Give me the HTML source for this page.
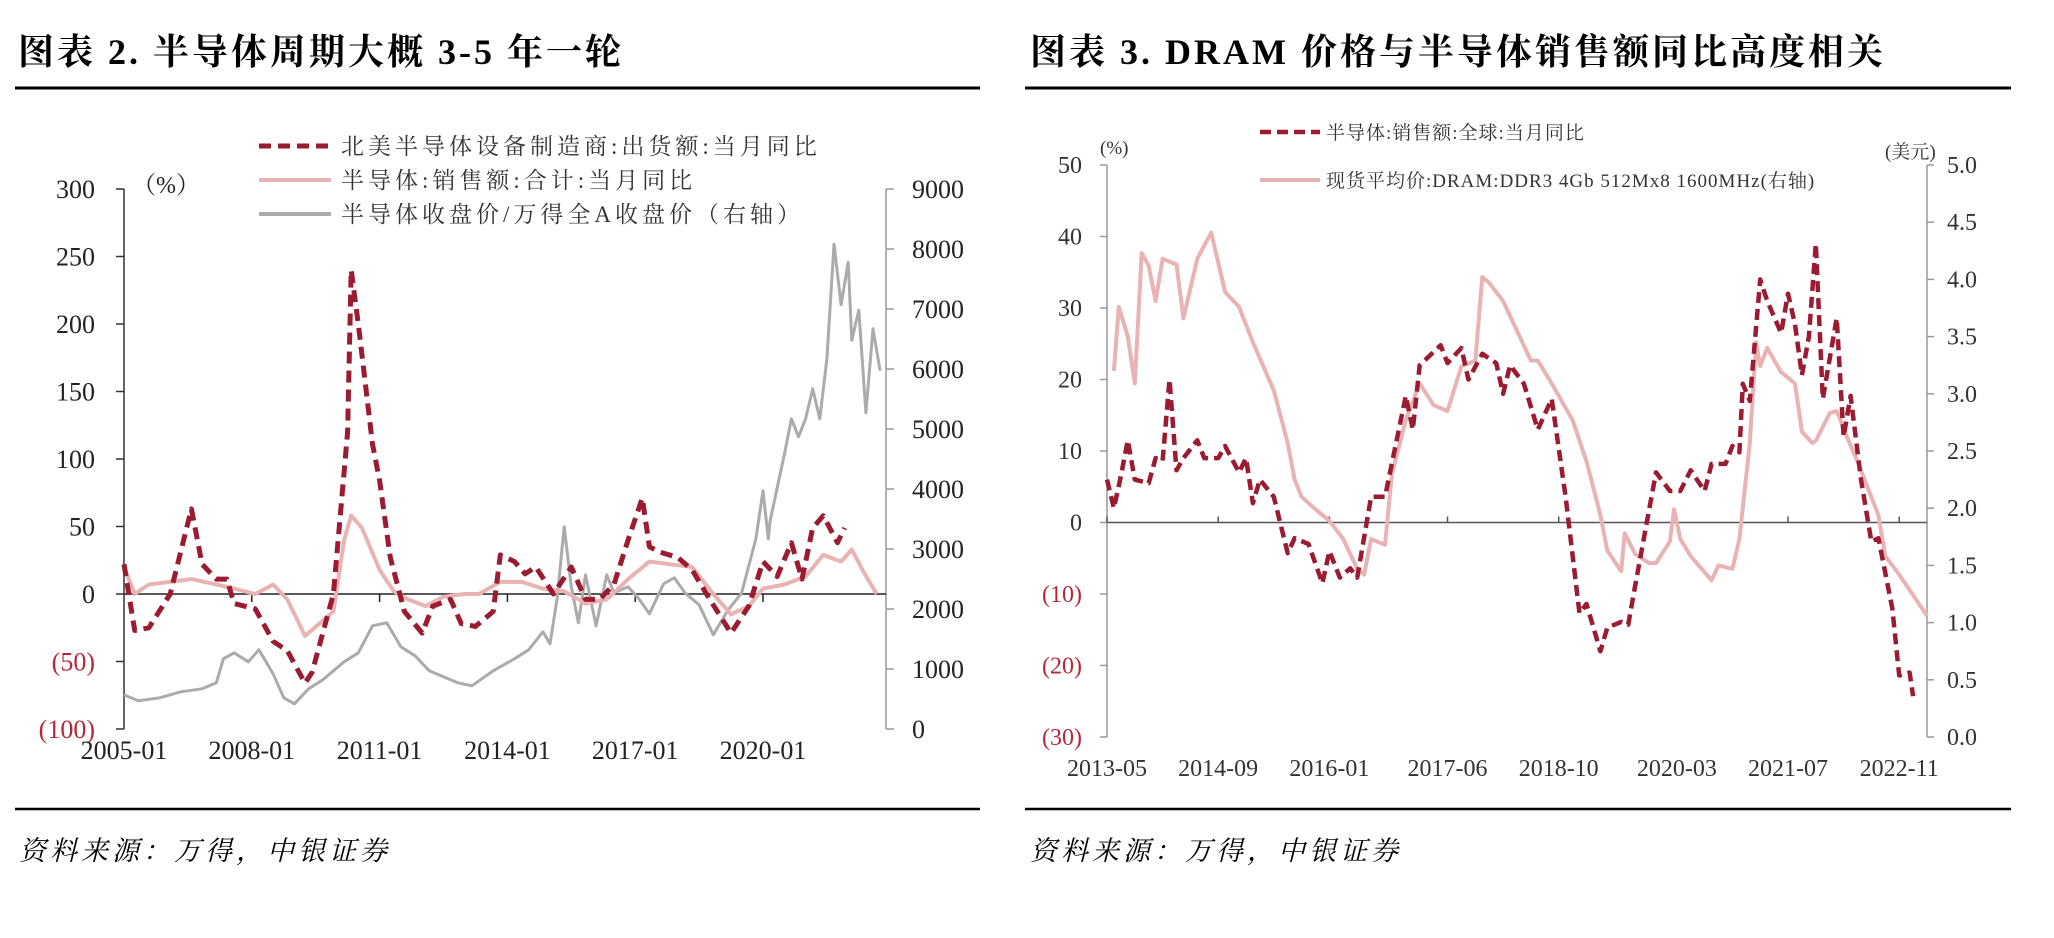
<!DOCTYPE html>
<html><head><meta charset="utf-8">
<style>
html,body{margin:0;padding:0;background:#fff;}
svg{display:block;font-family:"Liberation Serif","Noto Serif CJK SC",serif;}
.cjk{font-family:"Liberation Serif","Noto Serif CJK SC","Noto Sans CJK SC",serif;}
</style></head>
<body>
<svg id="svg" width="2054" height="938" viewBox="0 0 2054 938" xmlns="http://www.w3.org/2000/svg">
  <text x="18" y="64" font-size="36" font-weight="bold" letter-spacing="3" class="cjk">图表 2.  半导体周期大概 3-5 年一轮</text>
  <line x1="15" y1="88" x2="980" y2="88" stroke="#000" stroke-width="3"/>
  <line x1="15" y1="809" x2="980" y2="809" stroke="#000" stroke-width="2.5"/>
  <text x="19" y="860" font-size="27" font-style="italic" letter-spacing="4" class="cjk">资料来源：万得，中银证券</text>

  <text x="1030" y="64" font-size="36" font-weight="bold" letter-spacing="3" class="cjk">图表 3. DRAM 价格与半导体销售额同比高度相关</text>
  <line x1="1025" y1="88" x2="2011" y2="88" stroke="#000" stroke-width="3"/>
  <line x1="1025" y1="809" x2="2011" y2="809" stroke="#000" stroke-width="2.5"/>
  <text x="1030" y="860" font-size="27" font-style="italic" letter-spacing="4" class="cjk">资料来源：万得，中银证券</text>

  <g id="c2"></g>
  <g id="c3"></g>
</svg>
<script>
// ---------- Chart 2 data (month index from 2005-01) ----------
const c2LeftTicks = [300,250,200,150,100,50,0,-50,-100];
const c2LeftTickLabels = ["300","250","200","150","100","50","0","(50)","(100)"];
const c2RightTicks = [9000,8000,7000,6000,5000,4000,3000,2000,1000,0];
const c2XLabels = ["2005-01","2008-01","2011-01","2014-01","2017-01","2020-01"];
const c2XLabelMonths = [0,36,72,108,144,180];
const c2EquipMonths = [0,3,7,13,19,22,26,29,31,37,42,46,51,53,59,63,64,66,70,72,75,79,84,87,92,95,99,104,106,110,113,116,121,126,130,134,138,142,146,148,151,156,160,165,171,176,180,184,188,191,194,197,201,203];
const c2EquipValues = [22,-27,-25,0,63,22,11,11,-7,-11,-35,-42,-66,-58,0,120,240,200,111,84,27,-13,-29,-9,-4,-22,-24,-13,29,24,15,20,0,20,-4,-4,7,40,71,35,31,27,18,-4,-29,-9,24,13,38,11,49,58,38,49];
const c2SalesMonths = [0,3,7,13,19,26,31,37,42,46,51,55,59,62,64,67,72,76,80,85,90,96,100,106,112,118,124,130,136,142,148,154,160,166,171,176,180,186,192,197,202,205,208,212];
const c2SalesValues = [20,0,7,9,11,7,4,0,7,-4,-31,-22,-13,40,58,49,18,2,-4,-9,-2,0,0,9,9,4,2,-7,-4,11,24,22,20,0,-15,-9,4,7,13,29,24,33,18,0];
const c2RatioMonths = [0,4,10,16,22,26,28,31,35,38,42,45,48,52,56,62,66,70,74,78,82,86,90,94,98,104,110,114,118,120,122,124,126,128,130,133,136,138,142,145,148,152,155,158,162,166,170,174,178,180,181.5,182,186,188,190,192,194,196,198,200,202,204,205,207,209,211,213];
const c2RatioValues = [570,470,520,620,670,770,1170,1270,1120,1320,920,520,420,670,820,1120,1270,1720,1770,1370,1220,970,870,770,720,970,1170,1320,1620,1420,2170,3370,2370,1770,2570,1720,2570,2270,2370,2170,1920,2420,2520,2270,2070,1570,1970,2270,3170,3970,3170,3470,4570,5170,4870,5170,5670,5170,6170,8080,7070,7780,6480,6980,5270,6670,5970,5370];

// ---------- Chart 3 data (month index from 2013-05) ----------
const c3LeftTicks = [50,40,30,20,10,0,-10,-20,-30];
const c3LeftTickLabels = ["50","40","30","20","10","0","(10)","(20)","(30)"];
const c3RightTicks = [5,4.5,4,3.5,3,2.5,2,1.5,1,0.5,0];
const c3RightTickLabels = ["5.0","4.5","4.0","3.5","3.0","2.5","2.0","1.5","1.0","0.5","0.0"];
const c3XLabels = ["2013-05","2014-09","2016-01","2017-06","2018-10","2020-03","2021-07","2022-11"];
const c3XLabelMonths = [0,16,32,49,65,82,98,114];
const c3SalesMonths = [0,1,2,3,4,6,7,8,9,10,11,13,14,16,17,19,20,21,22,24,26,27,29,31,32,33.5,35,36,38,40,43,44,45,48,49,51,52,54,56,57,58,60,62,64,66,68,69,71,72,74,75,76,79,81,82.5,84,86,87,89,90,91,91.5,92.5,94,95,97,98,99,100,101,102,103,105,106,107,108.5,110,111,113,114,115.5,116];
const c3SalesValues = [6,2,6.5,11.5,6,5.5,9,8.6,20,7.3,9,11.5,9,9,10.7,7,9,2.7,6,3.6,-4.3,-2.2,-3,-8.5,-4,-7.7,-6.4,-7.7,3.6,3.6,17.7,13,22,24.8,22.3,24.4,20,23.6,22.3,18,22,19.4,13,17.3,3.6,-12.7,-11.4,-18,-14.7,-13.9,-14.3,-8.9,7,4.4,4.4,7.3,4.4,8.2,8.2,10.7,9.8,19.4,17,34,31,26.5,32,27.7,20.6,26,39,17.3,28.6,12,17.7,6,-2.7,-2.2,-12,-21.4,-21,-24.3];
const c3DramMonths = [1,1.7,3,4,5,6,7,8,10,11,13,15,17,19,21,24,26,27,28,30,32,34,36,37,38,40,41,43,45,47,49,51,53,54,55,57,59,61,62,64,67,69,71,72,74,74.5,76,78,79,81,81.6,82.5,84,87,88,90,91,92.5,93.4,94,95,97,99,100,101.5,102,104,105,106.5,108,109,111,112,114,116,118];
const c3DramValues = [3.2,3.76,3.5,3.09,4.23,4.12,3.81,4.18,4.13,3.66,4.18,4.41,3.89,3.76,3.45,3.03,2.57,2.25,2.1,1.99,1.89,1.73,1.47,1.42,1.73,1.68,2.3,2.77,3.09,2.9,2.85,3.24,3.29,4.02,3.97,3.81,3.55,3.29,3.29,3.09,2.77,2.41,1.94,1.63,1.45,1.78,1.6,1.52,1.52,1.71,1.99,1.73,1.58,1.37,1.5,1.47,1.73,2.57,3.45,3.24,3.4,3.19,3.09,2.67,2.57,2.59,2.83,2.85,2.62,2.41,2.25,1.94,1.58,1.42,1.24,1.06];

const NS = "http://www.w3.org/2000/svg";
function mk(parent, tag, attrs, text){
  const e = document.createElementNS(NS, tag);
  for (const k in attrs) e.setAttribute(k, attrs[k]);
  if (text !== undefined) e.textContent = text;
  parent.appendChild(e);
  return e;
}
function pts(ms, vs, fx, fy){ return ms.map((m,i)=>fx(m).toFixed(1)+","+fy(vs[i]).toFixed(1)).join(" "); }

const RED="#9b1b30", PINK="#eab3b3", GRAY="#ababab", NEG="#b5283a";

// ---------- Chart 2 ----------
(function(){
  const g = document.getElementById('c2');
  const x0=124, x1=886, pxPerMonth=3.55;
  const fx = m => x0 + m*pxPerMonth;
  const yTop=189, yBot=729;
  const fyL = v => yBot - (v+100)*(yBot-yTop)/400;
  const fyR = v => yBot - v*(yBot-yTop)/9000;

  let e;
  e = mk(g,'line',{x1:x0,y1:yTop,x2:x0,y2:yBot,stroke:"#333","stroke-width":1.5});
   
  e = mk(g,'line',{x1:x1,y1:yTop,x2:x1,y2:yBot,stroke:"#999","stroke-width":1.5});
   
  e = mk(g,'line',{x1:x0,y1:fyL(0),x2:x1,y2:fyL(0),stroke:"#222","stroke-width":1.5});
   

  c2LeftTicks.forEach((v,i)=>{
    const y=fyL(v);
    const t=mk(g,'line',{x1:x0-8,y1:y,x2:x0,y2:y,stroke:"#333","stroke-width":1.5});
     
    const l=mk(g,'text',{x:x0-29,y:y+9,"font-size":26,"text-anchor":"end",fill:v<0?NEG:"#222"},c2LeftTickLabels[i]);
     
  });
  c2RightTicks.forEach(v=>{
    const y=fyR(v);
    const t=mk(g,'line',{x1:x1,y1:y,x2:x1+8,y2:y,stroke:"#999","stroke-width":1.5});
     
    const l=mk(g,'text',{x:x1+26,y:y+9,"font-size":26,fill:"#222"},String(v));
     
  });
  c2XLabels.forEach((s,i)=>{
    const x=fx(c2XLabelMonths[i]);
    if(i>0){
      const t=mk(g,'line',{x1:x,y1:fyL(0),x2:x,y2:fyL(0)+8,stroke:"#222","stroke-width":1.5});
       
    }
    const l=mk(g,'text',{x:x,y:759,"font-size":26,"text-anchor":"middle",fill:"#222"},s);
     
  });
  e=mk(g,'text',{x:132,y:193,"font-size":24,fill:"#222"},"（%）");
   

  e=mk(g,'polyline',{points:pts(c2RatioMonths,c2RatioValues,fx,fyR),fill:"none",stroke:GRAY,"stroke-width":3,"stroke-linejoin":"round"});
   
  e=mk(g,'polyline',{points:pts(c2SalesMonths,c2SalesValues,fx,fyL),fill:"none",stroke:PINK,"stroke-width":4,"stroke-linejoin":"round"});
   
  e=mk(g,'polyline',{points:pts(c2EquipMonths,c2EquipValues,fx,fyL),fill:"none",stroke:RED,"stroke-width":5,"stroke-dasharray":"12,7","stroke-linejoin":"round"});
   

  const leg=[["北美半导体设备制造商:出货额:当月同比",RED,true,146],["半导体:销售额:合计:当月同比",PINK,false,180],["半导体收盘价/万得全A收盘价（右轴）",GRAY,false,214]];
  leg.forEach(r=>{
    const ln=mk(g,'line',{x1:259,y1:r[3],x2:331,y2:r[3],stroke:r[1],"stroke-width":r[2]?5:4,"stroke-dasharray":r[2]?"12,7":"none"});
     
    const tx=mk(g,'text',{x:341,y:r[3]+8,"font-size":23,"letter-spacing":4,fill:"#333",class:"cjk"},r[0]);
     
  });
})();

// ---------- Chart 3 ----------
(function(){
  const g = document.getElementById('c3');
  const x0=1107, x1=1927, monthsSpan=118;
  const fx = m => x0 + m*(x1-x0)/monthsSpan;
  const yTop=165, yBot=737;
  const fyL = v => yBot - (v+30)*(yBot-yTop)/80;
  const fyR = v => yBot - v*(yBot-yTop)/5;

  let e;
  e = mk(g,'line',{x1:x0,y1:yTop,x2:x0,y2:yBot,stroke:"#999","stroke-width":1.5});
   
  e = mk(g,'line',{x1:x1,y1:yTop,x2:x1,y2:yBot,stroke:"#999","stroke-width":1.5});
   
  e = mk(g,'line',{x1:x0,y1:fyL(0),x2:x1,y2:fyL(0),stroke:"#555","stroke-width":1.5});
   

  c3LeftTicks.forEach((v,i)=>{
    const y=fyL(v);
    const t=mk(g,'line',{x1:x0-7,y1:y,x2:x0,y2:y,stroke:"#999","stroke-width":1.5});
     
    const l=mk(g,'text',{x:x0-25,y:y+8,"font-size":24,"text-anchor":"end",fill:v<0?NEG:"#333"},c3LeftTickLabels[i]);
     
  });
  c3RightTicks.forEach((v,i)=>{
    const y=fyR(v);
    const t=mk(g,'line',{x1:x1,y1:y,x2:x1+7,y2:y,stroke:"#999","stroke-width":1.5});
     
    const l=mk(g,'text',{x:x1+20,y:y+8,"font-size":24,fill:"#333"},c3RightTickLabels[i]);
     
  });
  c3XLabels.forEach((s,i)=>{
    const x=fx(c3XLabelMonths[i]);
    const t=mk(g,'line',{x1:x,y1:fyL(0),x2:x,y2:fyL(0)-6,stroke:"#555","stroke-width":1.5});
     
    const l=mk(g,'text',{x:x,y:776,"font-size":24,"text-anchor":"middle",fill:"#333"},s);
     
  });
  e=mk(g,'text',{x:1100,y:154,"font-size":19,fill:"#333"},"(%)");
   
  e=mk(g,'text',{x:1885,y:158,"font-size":19,fill:"#333",class:"cjk"},"(美元)");
   

  e=mk(g,'polyline',{points:pts(c3DramMonths,c3DramValues,fx,fyR),fill:"none",stroke:PINK,"stroke-width":4,"stroke-linejoin":"round"});
   
  e=mk(g,'polyline',{points:pts(c3SalesMonths,c3SalesValues,fx,fyL),fill:"none",stroke:RED,"stroke-width":4.5,"stroke-dasharray":"11,6","stroke-linejoin":"round"});
   

  const leg=[["半导体:销售额:全球:当月同比",RED,true,132],["现货平均价:DRAM:DDR3 4Gb 512Mx8 1600MHz(右轴)",PINK,false,180]];
  leg.forEach(r=>{
    const ln=mk(g,'line',{x1:1260,y1:r[3],x2:1320,y2:r[3],stroke:r[1],"stroke-width":r[2]?4.5:4,"stroke-dasharray":r[2]?"11,6":"none"});
     
    const tx=mk(g,'text',{x:1326,y:r[3]+7,"font-size":19,"letter-spacing":1,fill:"#333",class:"cjk"},r[0]);
     
  });
})();
</script>
</body></html>
